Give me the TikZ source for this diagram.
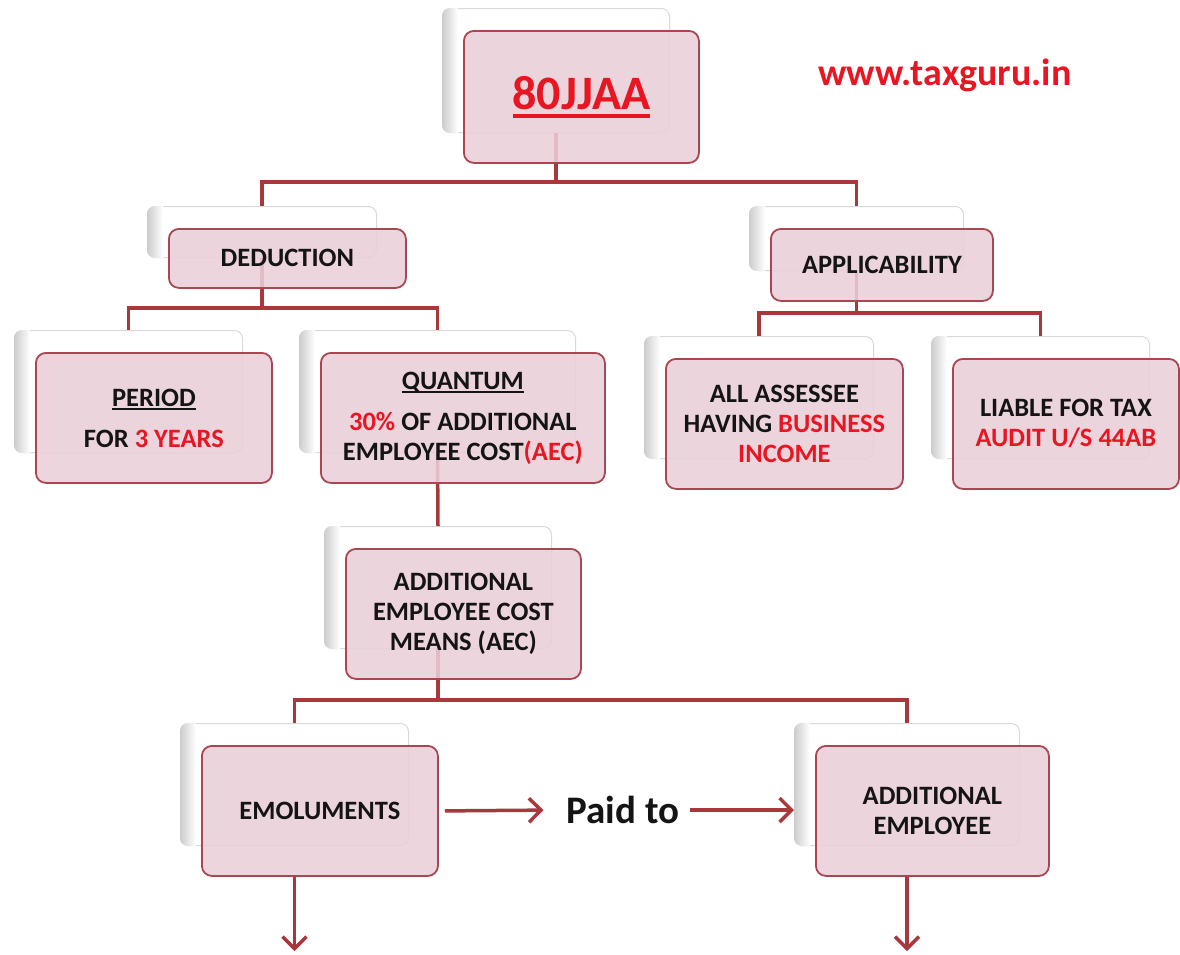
\documentclass[tikz,border=0pt]{standalone}
\usepackage{fontspec}
\setmainfont{Carlito}
\usetikzlibrary{arrows.meta}
\definecolor{linecol}{RGB}{168,56,60}
\definecolor{bordcol}{RGB}{170,70,82}
\definecolor{pinkfill}{RGB}{234,207,216}
\definecolor{txtred}{RGB}{232,22,34}
\definecolor{txtblk}{RGB}{20,20,20}
\newcommand\myul[3]{\setbox0=\hbox{#3}\leavevmode\rlap{\rule[\dimexpr-#1-#2\relax]{\wd0}{#2}}\box0}
\newcommand\rd[1]{\textcolor{txtred}{#1}}
\pgfdeclarelayer{backl}
\pgfdeclarelayer{midl}
\pgfsetlayers{backl,midl,main}
\tikzset{
 backbox/.style={draw=gray!30, line width=1pt, fill=white, rounded corners=8pt, inner sep=0, anchor=north west},
 frontbox/.style={draw=bordcol, line width=1.8pt, fill=pinkfill, fill opacity=0.88, text opacity=1, rounded corners=10pt, inner sep=0, anchor=north west, align=center, font=\fontsize{26.5}{30}\selectfont\bfseries, text=txtblk},
 conn/.style={draw=linecol, line width=3.5pt},
 arr/.style={draw=linecol, line width=3.5pt, -{Straight Barb[length=12pt,width=24pt,line width=3.5pt]}},
}
\newcommand\twobox[6]{%
 \begin{pgfonlayer}{backl}
 \node[backbox, minimum width=#4-8, minimum height=#5-8] (#1b) at (#2-21,#3-22) {};
 \begin{scope}
 \clip[rounded corners=8pt] (#1b.north west) rectangle (#1b.south east);
 \shade[left color=gray!40, right color=white] (#1b.north west) rectangle ([xshift=16pt]#1b.south west);
 \end{scope}
 \end{pgfonlayer}
 \node[frontbox, minimum width=#4, minimum height=#5] (#1) at (#2,#3) {#6};
}
\begin{document}
\begin{tikzpicture}[x=1pt,y=-1pt]
\useasboundingbox (0,0) rectangle (1180,954);
\clip (0,0) rectangle (1180,954);
\twobox{top}{463}{30}{235}{132}{{\color{txtred}\fontsize{48}{54}\selectfont\myul{5pt}{3.5pt}{80JJAA}}}
\twobox{ded}{168}{228}{237}{59}{DEDUCTION}
\twobox{app}{770}{228}{222}{72}{APPLICABILITY}
\twobox{per}{35}{352}{236}{130}{\myul{2pt}{2pt}{PERIOD}\\[11pt]FOR \rd{3 YEARS}}
\twobox{qua}{320}{352}{284}{130}{\myul{2pt}{2pt}{QUANTUM}\\[11pt]\rd{30\%} OF ADDITIONAL\\EMPLOYEE COST\rd{(AEC)}}
\twobox{all}{665}{358}{237}{130}{ALL ASSESSEE\\HAVING \rd{BUSINESS}\\\rd{INCOME}}
\twobox{lia}{952}{358}{226}{130}{LIABLE FOR TAX\\\rd{AUDIT U/S 44AB}}
\twobox{aec}{345}{548}{235}{130}{ADDITIONAL\\EMPLOYEE COST\\MEANS (AEC)}
\twobox{emo}{201}{745}{236}{130}{EMOLUMENTS}
\twobox{add}{815}{745}{233}{130}{ADDITIONAL\\EMPLOYEE}
\node[font=\fontsize{38}{44}\selectfont\bfseries, text=txtred] (web) at (945,75) {www.taxguru.in};
\node[font=\fontsize{39}{44}\selectfont\bfseries, text=txtblk, inner xsep=10pt, inner ysep=0] (paid) at (623,810) {Paid to};
\begin{pgfonlayer}{midl}
\draw[conn] (topb.south) -- (topb.south |- 0,182) -| (dedb.north);
\draw[conn] (topb.south |- 0,182) -| (appb.north);
\draw[conn] (dedb.south) -- (dedb.south |- 0,308) -| (perb.north);
\draw[conn] (dedb.south |- 0,308) -| (quab.north);
\draw[conn] (appb.south) -- (appb.south |- 0,313) -| (allb.north);
\draw[conn] (appb.south |- 0,313) -| (liab.north);
\draw[conn] (quab.south) -- (aecb.north);
\draw[conn] (aecb.south) -- (aecb.south |- 0,700) -| (emob.north);
\draw[conn] (aecb.south |- 0,700) -| (addb.north);
\end{pgfonlayer}
\draw[arr, shorten >=13pt] ([xshift=6pt]emo.east) -- (paid.west);
\draw[arr] (paid.east) -- (paid.east -| addb.west);
\coordinate (e1) at (emob.south |- 0,951);
\coordinate (e2) at (addb.south |- 0,951);
\draw[arr] (emob.south |- emo.south) -- (e1);
\draw[arr] (addb.south |- add.south) -- (e2);
\end{tikzpicture}
\end{document}
